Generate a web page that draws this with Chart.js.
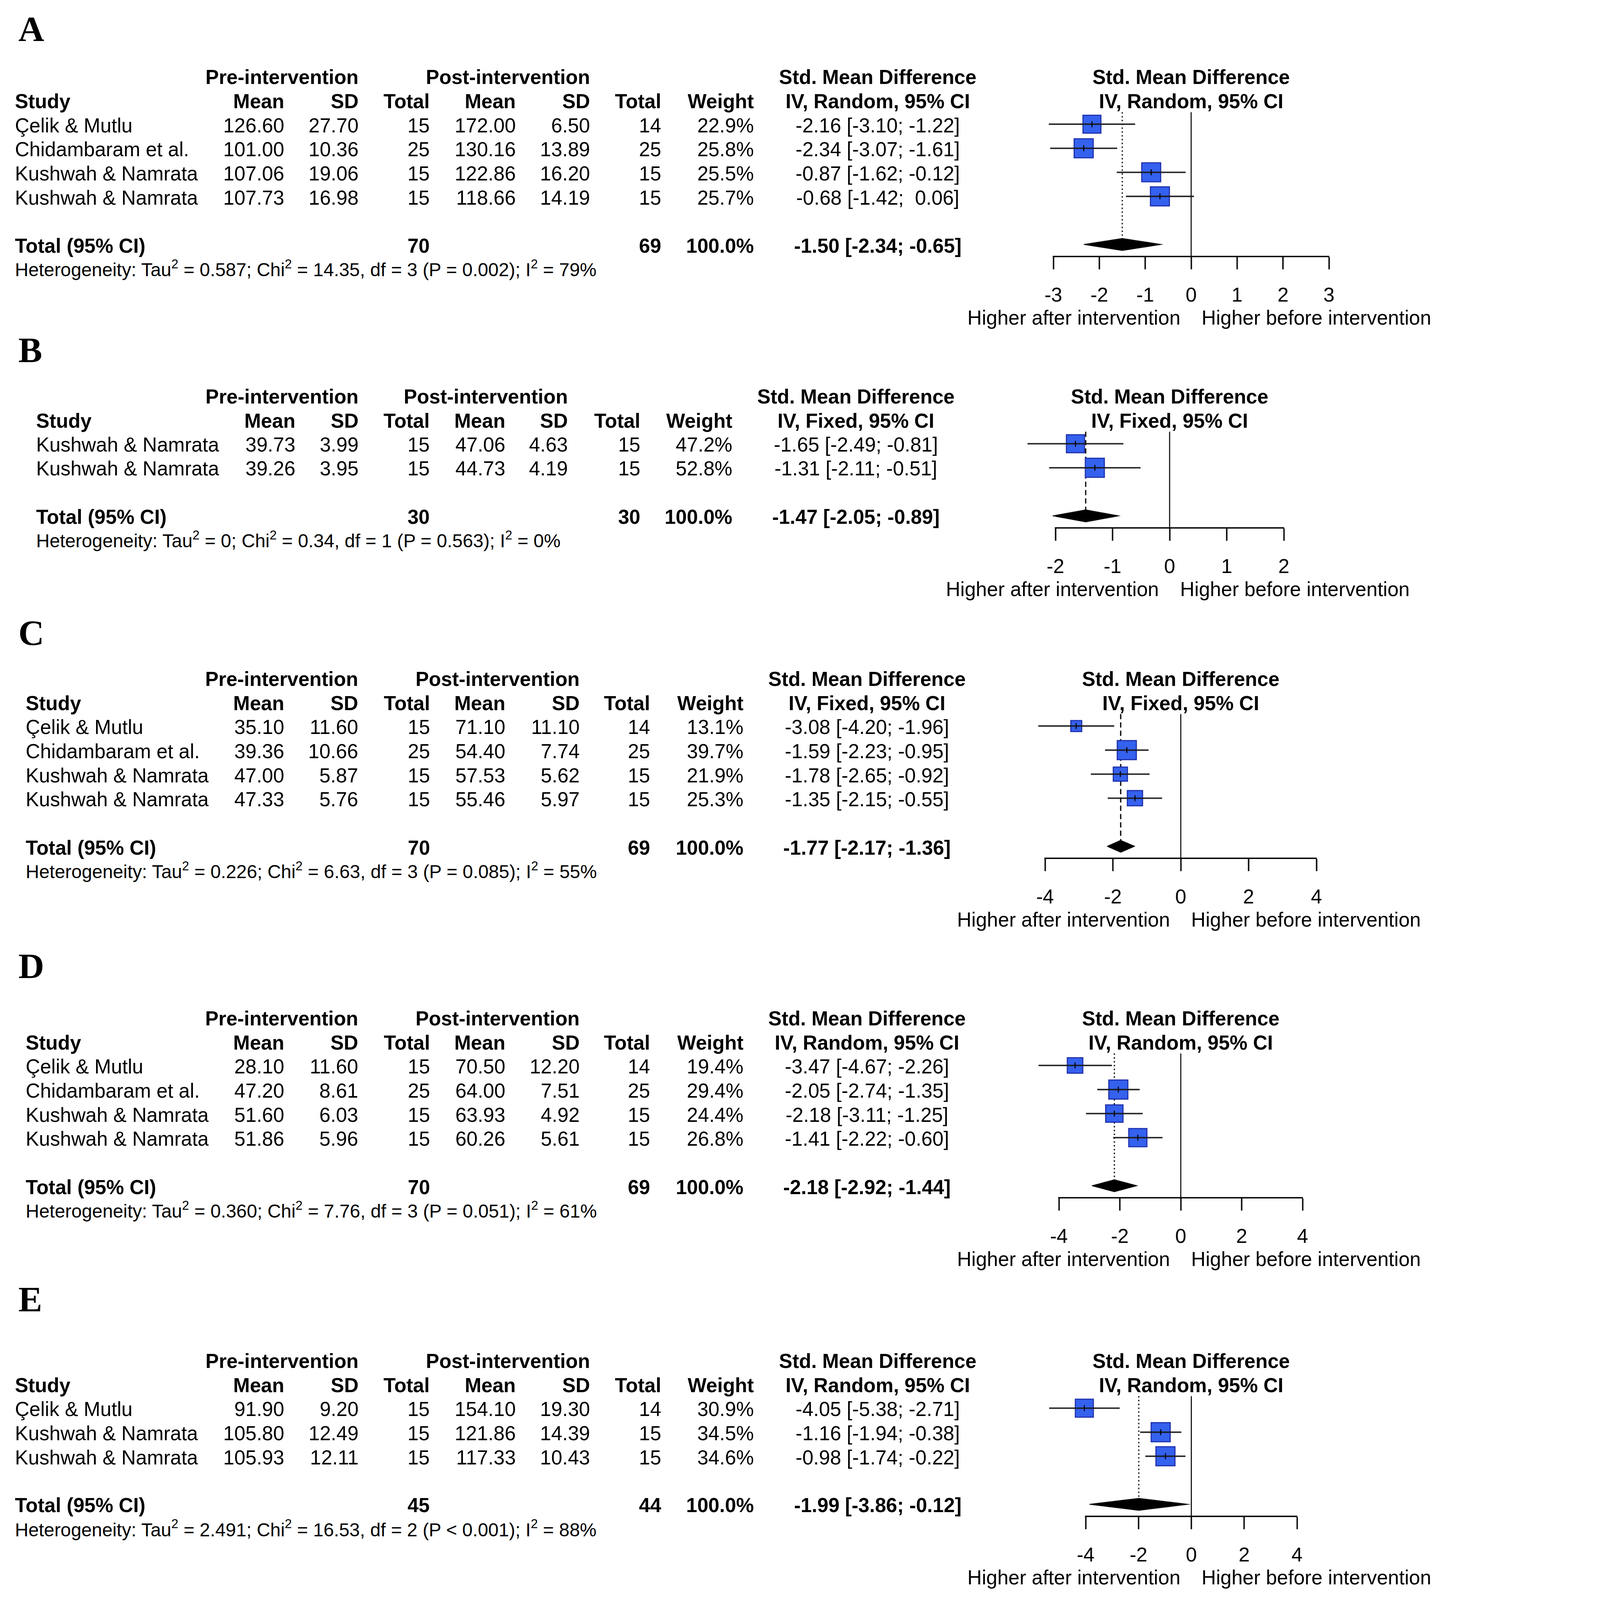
<!DOCTYPE html>
<html>
<head>
<meta charset="utf-8">
<script src="https://cdn.jsdelivr.net/npm/chart.js@4.4.1/dist/chart.umd.min.js"></script>
<style>
  html, body { margin: 0; padding: 0; background: #fff; overflow: hidden; }
  #page { width: 4157px; height: 4610px; position: absolute; left: 0; top: 0; transform-origin: 0 0; background: #fff; }
  .t { position: absolute; white-space: pre; line-height: 1; color: #000;
       font-family: "Liberation Sans", Arial, sans-serif; }
  .t sup { font-size: 68%; line-height: 0; vertical-align: 0.62em; }
  .letter { font-family: "Liberation Serif", "Times New Roman", serif; font-weight: bold; }
  canvas { position: absolute; }
</style>
</head>
<body>
<div id="page"></div>
<script>
// ---- panel A : random effects
const studiesA  = ["Çelik & Mutlu", "Chidambaram et al.", "Kushwah & Namrata", "Kushwah & Namrata"];
const preMeanA  = [126.60, 101.00, 107.06, 107.73];
const preSdA    = [27.70, 10.36, 19.06, 16.98];
const preNA     = [15, 25, 15, 15];
const postMeanA = [172.00, 130.16, 122.86, 118.66];
const postSdA   = [6.50, 13.89, 16.20, 14.19];
const postNA    = [14, 25, 15, 15];
const weightA   = [22.9, 25.8, 25.5, 25.7];
const smdA      = [-2.16, -2.34, -0.87, -0.68];
const lowerA    = [-3.10, -3.07, -1.62, -1.42];
const upperA    = [-1.22, -1.61, -0.12, 0.06];
const totalA    = [-1.50, -2.34, -0.65];
const totalNA   = [70, 69];
const hetA      = ["0.587", "14.35", "3", "P = 0.002", "79%"];
const ticksA    = [-3, -2, -1, 0, 1, 2, 3];

// ---- panel B : fixed effects
const studiesB  = ["Kushwah & Namrata", "Kushwah & Namrata"];
const preMeanB  = [39.73, 39.26];
const preSdB    = [3.99, 3.95];
const preNB     = [15, 15];
const postMeanB = [47.06, 44.73];
const postSdB   = [4.63, 4.19];
const postNB    = [15, 15];
const weightB   = [47.2, 52.8];
const smdB      = [-1.65, -1.31];
const lowerB    = [-2.49, -2.11];
const upperB    = [-0.81, -0.51];
const totalB    = [-1.47, -2.05, -0.89];
const totalNB   = [30, 30];
const hetB      = ["0", "0.34", "1", "P = 0.563", "0%"];
const ticksB    = [-2, -1, 0, 1, 2];

// ---- panel C : fixed effects
const studiesC  = ["Çelik & Mutlu", "Chidambaram et al.", "Kushwah & Namrata", "Kushwah & Namrata"];
const preMeanC  = [35.10, 39.36, 47.00, 47.33];
const preSdC    = [11.60, 10.66, 5.87, 5.76];
const preNC     = [15, 25, 15, 15];
const postMeanC = [71.10, 54.40, 57.53, 55.46];
const postSdC   = [11.10, 7.74, 5.62, 5.97];
const postNC    = [14, 25, 15, 15];
const weightC   = [13.1, 39.7, 21.9, 25.3];
const smdC      = [-3.08, -1.59, -1.78, -1.35];
const lowerC    = [-4.20, -2.23, -2.65, -2.15];
const upperC    = [-1.96, -0.95, -0.92, -0.55];
const totalC    = [-1.77, -2.17, -1.36];
const totalNC   = [70, 69];
const hetC      = ["0.226", "6.63", "3", "P = 0.085", "55%"];
const ticksC    = [-4, -2, 0, 2, 4];

// ---- panel D : random effects
const studiesD  = ["Çelik & Mutlu", "Chidambaram et al.", "Kushwah & Namrata", "Kushwah & Namrata"];
const preMeanD  = [28.10, 47.20, 51.60, 51.86];
const preSdD    = [11.60, 8.61, 6.03, 5.96];
const preND     = [15, 25, 15, 15];
const postMeanD = [70.50, 64.00, 63.93, 60.26];
const postSdD   = [12.20, 7.51, 4.92, 5.61];
const postND    = [14, 25, 15, 15];
const weightD   = [19.4, 29.4, 24.4, 26.8];
const smdD      = [-3.47, -2.05, -2.18, -1.41];
const lowerD    = [-4.67, -2.74, -3.11, -2.22];
const upperD    = [-2.26, -1.35, -1.25, -0.60];
const totalD    = [-2.18, -2.92, -1.44];
const totalND   = [70, 69];
const hetD      = ["0.360", "7.76", "3", "P = 0.051", "61%"];
const ticksD    = [-4, -2, 0, 2, 4];

// ---- panel E : random effects
const studiesE  = ["Çelik & Mutlu", "Kushwah & Namrata", "Kushwah & Namrata"];
const preMeanE  = [91.90, 105.80, 105.93];
const preSdE    = [9.20, 12.49, 12.11];
const preNE     = [15, 15, 15];
const postMeanE = [154.10, 121.86, 117.33];
const postSdE   = [19.30, 14.39, 10.43];
const postNE    = [14, 15, 15];
const weightE   = [30.9, 34.5, 34.6];
const smdE      = [-4.05, -1.16, -0.98];
const lowerE    = [-5.38, -1.94, -1.74];
const upperE    = [-2.71, -0.38, -0.22];
const totalE    = [-1.99, -3.86, -0.12];
const totalNE   = [45, 44];
const hetE      = ["2.491", "16.53", "2", "P < 0.001", "88%"];
const ticksE    = [-4, -2, 0, 2, 4];

// ---- layout (page pixels of the 4157 x 4610 figure)
const PAGE_W = 4157, PAGE_H = 4610;
const ROW = 69.3;      // row height
const FS = 57.5;       // main font size
const FS_HET = 53.8;   // heterogeneity line
const TEXT_DY = 4;
const colsAE = {study: 43, preMean: 819, preSd: 1033, preN: 1238, postMean: 1486, postSd: 1700, postN: 1905, weight: 2172, ci: 2529};
const colsB  = {study: 104, preMean: 851, preSd: 1033, preN: 1238, postMean: 1456, postSd: 1636, postN: 1845, weight: 2110, ci: 2466};
const colsCD = {study: 74, preMean: 819, preSd: 1032, preN: 1239, postMean: 1456, postSd: 1670, postN: 1873, weight: 2142, ci: 2498};

const page = document.getElementById('page');
// fit the whole figure into whatever viewport we get
const vw = window.innerWidth || document.documentElement.clientWidth || PAGE_W;
const vh = window.innerHeight || document.documentElement.clientHeight || PAGE_H;
const S = Math.min(vw / PAGE_W, vh / PAGE_H);
page.style.transform = 'scale(' + S + ')';

Chart.defaults.font.family = '"Liberation Sans", Arial, sans-serif';

function put(txt, x, y, align, size, bold, html) {
  const el = document.createElement('div');
  el.className = 't';
  if (html) el.innerHTML = txt; else el.textContent = txt;
  el.style.left = x + 'px';
  el.style.top = (y + TEXT_DY) + 'px';
  el.style.fontSize = size + 'px';
  el.style.fontWeight = bold ? 'bold' : 'normal';
  const tx = align === 'right' ? '-100%' : (align === 'center' ? '-50%' : '0');
  el.style.transform = 'translate(' + tx + ', -50%)';
  page.appendChild(el);
  return el;
}

const f2 = v => v.toFixed(2);
function ciText(e, l, h) {
  return f2(e) + ' [' + f2(l) + '; ' + (h >= 0 ? ' ' : '') + f2(h) + ']';
}

function drawPanel(letter, letterY, p, L) {
  const k = p.studies.length;
  const yOf = v => L.row1 + v * ROW;
  const c = L.cols;
  const method = 'IV, ' + p.model + ', 95% CI';

  const lt = put(letter, 53, letterY, 'left', 103, true);
  lt.classList.add('letter');

  // headers
  put('Pre-intervention', c.preSd, yOf(-2), 'right', FS, true);
  put('Post-intervention', c.postSd, yOf(-2), 'right', FS, true);
  put('Std. Mean Difference', c.ci, yOf(-2), 'center', FS, true);
  put('Std. Mean Difference', L.zero, yOf(-2), 'center', FS, true);
  put('Study', c.study, yOf(-1), 'left', FS, true);
  put('Mean', c.preMean, yOf(-1), 'right', FS, true);
  put('SD', c.preSd, yOf(-1), 'right', FS, true);
  put('Total', c.preN, yOf(-1), 'right', FS, true);
  put('Mean', c.postMean, yOf(-1), 'right', FS, true);
  put('SD', c.postSd, yOf(-1), 'right', FS, true);
  put('Total', c.postN, yOf(-1), 'right', FS, true);
  put('Weight', c.weight, yOf(-1), 'right', FS, true);
  put(method, c.ci, yOf(-1), 'center', FS, true);
  put(method, L.zero, yOf(-1), 'center', FS, true);

  // study rows
  for (let i = 0; i < k; i++) {
    const y = yOf(i);
    put(p.studies[i], c.study, y, 'left', FS, false);
    put(f2(p.preMean[i]), c.preMean, y, 'right', FS, false);
    put(f2(p.preSd[i]), c.preSd, y, 'right', FS, false);
    put(String(p.preN[i]), c.preN, y, 'right', FS, false);
    put(f2(p.postMean[i]), c.postMean, y, 'right', FS, false);
    put(f2(p.postSd[i]), c.postSd, y, 'right', FS, false);
    put(String(p.postN[i]), c.postN, y, 'right', FS, false);
    put(p.weight[i].toFixed(1) + '%', c.weight, y, 'right', FS, false);
    put(ciText(p.smd[i], p.lower[i], p.upper[i]), c.ci, y, 'center', FS, false);
  }

  // total row
  const yt = yOf(k + 1);
  put('Total (95% CI)', c.study, yt, 'left', FS, true);
  put(String(p.totalN[0]), c.preN, yt, 'right', FS, true);
  put(String(p.totalN[1]), c.postN, yt, 'right', FS, true);
  put('100.0%', c.weight, yt, 'right', FS, true);
  put(ciText(p.total[0], p.total[1], p.total[2]), c.ci, yt, 'center', FS, true);

  const h = p.het;
  put('Heterogeneity: Tau<sup>2</sup> = ' + h[0] + '; Chi<sup>2</sup> = ' + h[1] + ', df = ' + h[2] +
      ' (' + h[3].replace('<', '&lt;') + '); I<sup>2</sup> = ' + h[4], c.study, yOf(k + 2), 'left', FS_HET, false, true);

  put('Higher after intervention', L.zero - 31, yOf(k + 4), 'right', FS, false);
  put('Higher before intervention', L.zero + 30, yOf(k + 4), 'left', FS, false);

  // ---- forest plot
  const padL = 220, padR = 160, padT = 30;
  const W = Math.round((L.xmax - L.xmin) * L.unit) + padL + padR;
  const H = Math.round(padT + (k + 2.6) * ROW + 220);
  const cv = document.createElement('canvas');
  cv.width = W; cv.height = H;
  cv.style.width = W + 'px'; cv.style.height = H + 'px';
  page.appendChild(cv);

  const axisV = k + 1.5, totV = k + 1, DIA = 0.25;
  const est = p.total[0];
  const wmax = Math.max(...p.weight);
  const sizes = p.weight.map(w => 55 * Math.sqrt(w / wmax) / Math.SQRT2);
  const base = {pointRadius: 0, pointHoverRadius: 0, clip: false, tension: 0, fill: false};

  const datasets = [
    Object.assign({}, base, {data: [{x: 0, y: -0.5}, {x: 0, y: axisV}], borderColor: '#000', borderWidth: 3, order: 6}),
    Object.assign({}, base, {data: [{x: est, y: -0.5}, {x: est, y: totV - DIA}], borderColor: '#000', borderWidth: 3.5,
      borderDash: p.model === 'Random' ? [4, 7] : [15, 9], order: 5}),
    Object.assign({}, base, {data: [{x: p.total[1], y: totV}, {x: est, y: totV - DIA}, {x: p.total[2], y: totV},
      {x: est, y: totV + DIA}, {x: p.total[1], y: totV}], fill: 'shape', backgroundColor: '#000',
      borderColor: '#000', borderWidth: 2, order: 4}),
    {data: p.smd.map((v, i) => ({x: v, y: i})), showLine: false, clip: false, pointStyle: 'rect',
      pointRadius: sizes, pointHoverRadius: sizes, pointBackgroundColor: '#3461ee', pointBorderColor: '#1b2aa6',
      pointBorderWidth: 3, order: 3}
  ];
  for (let i = 0; i < k; i++) {
    datasets.push(Object.assign({}, base, {data: [{x: p.lower[i], y: i}, {x: p.upper[i], y: i}],
      borderColor: '#1a1a1a', borderWidth: 4, order: 2}));
  }
  datasets.push({data: p.smd.map((v, i) => ({x: v, y: i})), showLine: false, clip: false, pointStyle: 'line',
    pointRotation: 90, pointRadius: 8.5, pointHoverRadius: 8.5, pointBorderColor: '#000', pointBorderWidth: 3, order: 1});

  const chart = new Chart(cv, {
    type: 'line',
    data: {datasets},
    options: {
      responsive: false, maintainAspectRatio: false, animation: false, events: [],
      layout: {padding: {left: padL, right: padR, top: padT, bottom: 10}},
      plugins: {legend: {display: false}, tooltip: {enabled: false}},
      scales: {
        x: {
          type: 'linear', position: 'bottom', min: L.xmin, max: L.xmax,
          afterBuildTicks: s => { s.ticks = p.ticks.map(v => ({value: v})); },
          ticks: {font: {size: FS}, color: '#000', padding: 43, autoSkip: false, maxRotation: 0},
          grid: {drawOnChartArea: false, drawTicks: true, tickLength: 37, tickWidth: 4, tickColor: '#000', color: '#000'},
          border: {display: true, color: '#000', width: 4}
        },
        y: {type: 'linear', reverse: true, min: -1, max: axisV, display: false}
      }
    }
  });
  const ca = chart.chartArea;
  chart.options.scales.y.min = axisV - (ca.bottom - ca.top) / ROW;
  chart.update();
  cv.style.left = (L.zero + L.xmin * L.unit - ca.left) + 'px';
  cv.style.top = (L.row1 + axisV * ROW - ca.bottom) + 'px';
}

drawPanel('A', 80, {model: 'Random', studies: studiesA, preMean: preMeanA, preSd: preSdA, preN: preNA,
  postMean: postMeanA, postSd: postSdA, postN: postNA, weight: weightA, smd: smdA, lower: lowerA, upper: upperA,
  total: totalA, totalN: totalNA, het: hetA, ticks: ticksA},
  {row1: 358, zero: 3432, unit: 132.3, xmin: -3, xmax: 3, cols: colsAE});

drawPanel('B', 1005, {model: 'Fixed', studies: studiesB, preMean: preMeanB, preSd: preSdB, preN: preNB,
  postMean: postMeanB, postSd: postSdB, postN: postNB, weight: weightB, smd: smdB, lower: lowerB, upper: upperB,
  total: totalB, totalN: totalNB, het: hetB, ticks: ticksB},
  {row1: 1278, zero: 3370, unit: 164.5, xmin: -2, xmax: 2, cols: colsB});

drawPanel('C', 1820, {model: 'Fixed', studies: studiesC, preMean: preMeanC, preSd: preSdC, preN: preNC,
  postMean: postMeanC, postSd: postSdC, postN: postNC, weight: weightC, smd: smdC, lower: lowerC, upper: upperC,
  total: totalC, totalN: totalNC, het: hetC, ticks: ticksC},
  {row1: 2092, zero: 3402, unit: 97.7, xmin: -4, xmax: 4, cols: colsCD});

drawPanel('D', 2780, {model: 'Random', studies: studiesD, preMean: preMeanD, preSd: preSdD, preN: preND,
  postMean: postMeanD, postSd: postSdD, postN: postND, weight: weightD, smd: smdD, lower: lowerD, upper: upperD,
  total: totalD, totalN: totalND, het: hetD, ticks: ticksD},
  {row1: 3070, zero: 3402, unit: 87.8, xmin: -4, xmax: 4, cols: colsCD});

drawPanel('E', 3740, {model: 'Random', studies: studiesE, preMean: preMeanE, preSd: preSdE, preN: preNE,
  postMean: postMeanE, postSd: postSdE, postN: postNE, weight: weightE, smd: smdE, lower: lowerE, upper: upperE,
  total: totalE, totalN: totalNE, het: hetE, ticks: ticksE},
  {row1: 4057, zero: 3432, unit: 76.1, xmin: -4, xmax: 4, cols: colsAE});
</script>
</body>
</html>
